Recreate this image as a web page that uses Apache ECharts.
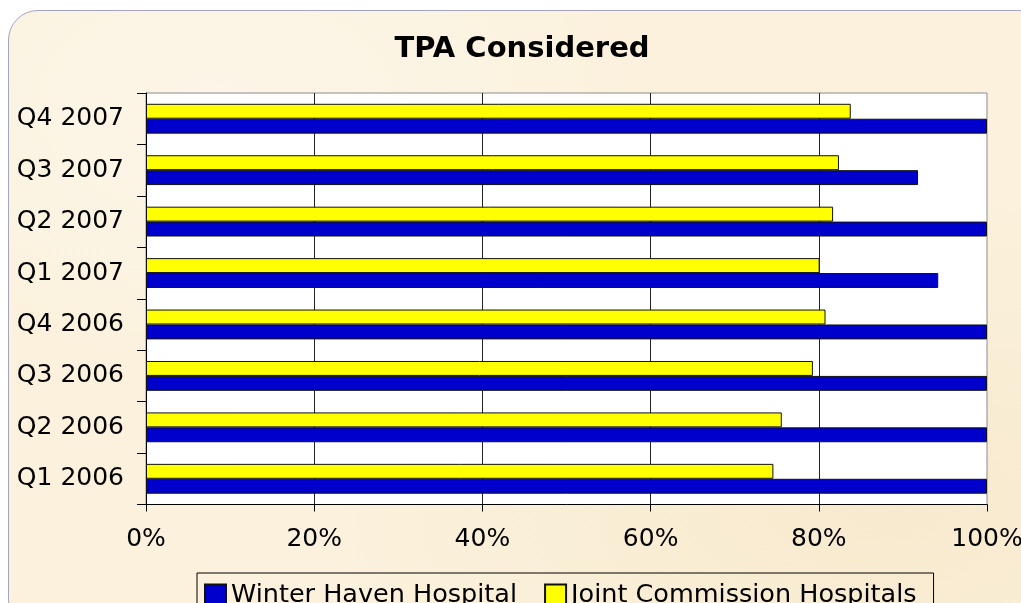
<!DOCTYPE html>
<html>
<head>
<meta charset="utf-8">
<script src="https://cdn.jsdelivr.net/npm/echarts@6/dist/echarts.min.js"></script>
<style>
  html, body { margin: 0; padding: 0; background: #ffffff; overflow: hidden; }
  #frame {
    position: absolute; left: 8px; top: 10px; width: 1040px; height: 620px;
    border: 1.5px solid #a3a3c6; border-radius: 30px; box-sizing: border-box;
    background: #fbf1dc;
    background-image:
      radial-gradient(ellipse at 20% 15%, rgba(255,255,255,0.35), rgba(255,255,255,0) 40%),
      radial-gradient(ellipse at 85% 80%, rgba(240,220,180,0.35), rgba(240,220,180,0) 45%);
  }
  #chart { position: absolute; left: 0; top: 0; width: 1021px; height: 603px; }
</style>
</head>
<body>
<div id="frame"></div>
<div id="chart"></div>
<script>
var categories = ['Q1 2006', 'Q2 2006', 'Q3 2006', 'Q4 2006', 'Q1 2007', 'Q2 2007', 'Q3 2007', 'Q4 2007'];
var winterHaven = [1.00, 1.00, 1.00, 1.00, 0.942, 1.00, 0.918, 1.00];
var jointCommission = [0.746, 0.756, 0.793, 0.808, 0.801, 0.817, 0.824, 0.838];
var xTicks = [0, 0.2, 0.4, 0.6, 0.8, 1.0];

var FONT = 'DejaVu Sans';
var chart = echarts.init(document.getElementById('chart'), null, { renderer: 'canvas' });
chart.setOption({
  backgroundColor: 'transparent',
  animation: false,
  title: {
    text: 'TPA Considered',
    left: 517, top: 30, textAlign: 'center',
    textStyle: { fontFamily: FONT, fontSize: 29, fontWeight: 'bold', color: '#000' }
  },
  legend: {
    data: ['Winter Haven Hospital', 'Joint Commission Hospitals'],
    left: 197, top: 573,
    padding: [9, 17, 9, 7],
    borderColor: '#000', borderWidth: 1,
    backgroundColor: 'transparent',
    icon: 'rect',
    itemWidth: 21, itemHeight: 21, itemGap: 27,
    textStyle: { fontFamily: FONT, fontSize: 25.5, color: '#000' }
  },
  grid: {
    left: 146, top: 93, width: 841, height: 411.5,
    show: true, backgroundColor: '#ffffff', borderColor: '#8c8c8c', borderWidth: 1,
    containLabel: false,
    outerBoundsMode: 'none'
  },
  xAxis: {
    type: 'value', min: 0, max: 1, interval: 0.2,
    axisLine: { show: true, lineStyle: { color: '#000', width: 1 } },
    axisTick: { show: true, length: 7, lineStyle: { color: '#000' } },
    axisLabel: {
      margin: 22, fontFamily: FONT, fontSize: 25, color: '#000',
      formatter: function (v) { return Math.round(v * 100) + '%'; }
    },
    splitLine: { show: true, showMinLine: false, showMaxLine: false, lineStyle: { color: '#222', width: 1 } }
  },
  yAxis: {
    type: 'category', data: categories,
    axisLine: { show: true, lineStyle: { color: '#000', width: 1 } },
    axisTick: { show: true, length: 9, lineStyle: { color: '#000' } },
    axisLabel: { margin: 22, fontFamily: FONT, fontSize: 25, color: '#000' },
    splitLine: { show: false }
  },
  series: [
    {
      name: 'Joint Commission Hospitals', type: 'bar', data: jointCommission,
      barGap: '0%', barCategoryGap: '42%',
      itemStyle: { color: '#ffff00', borderColor: '#111', borderWidth: 1 }
    },
    {
      name: 'Winter Haven Hospital', type: 'bar', data: winterHaven,
      barGap: '0%', barCategoryGap: '42%',
      itemStyle: { color: '#0000cc', borderColor: '#111', borderWidth: 1 }
    }
  ]
});
</script>
</body>
</html>
